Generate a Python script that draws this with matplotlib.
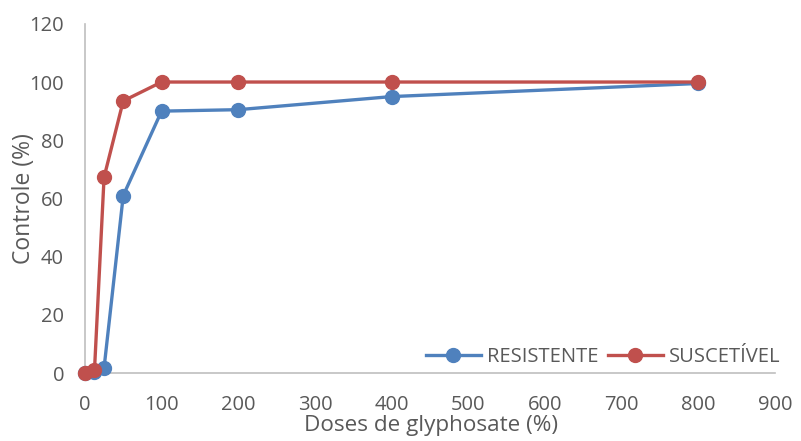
import matplotlib.pyplot as plt

plt.rcParams['font.family'] = ['Open Sans', 'DejaVu Sans']

doses = [0, 12.5, 25, 50, 100, 200, 400, 800]
resistente = [0, 0.3, 1.8, 61, 90, 90.5, 95, 99.5]
suscetivel = [0, 1, 67.3, 93.5, 100, 100, 100, 100]

x_ticks = list(range(0, 1000, 100))
y_ticks = list(range(0, 140, 20))

grey = '#595959'

fig = plt.figure(figsize=(8.01, 4.41), dpi=100)
ax = fig.add_axes([0.106, 0.154, 0.8615, 0.792])

ax.plot(doses, resistente, color='#4F81BD', lw=2.4, marker='o', ms=10,
        label='RESISTENTE', clip_on=False, zorder=3)
ax.plot(doses, suscetivel, color='#C0504D', lw=2.4, marker='o', ms=10,
        label='SUSCETÍVEL', clip_on=False, zorder=4)

ax.set_xlim(0, 900)
ax.set_ylim(0, 120)
ax.set_xticks(x_ticks)
ax.set_yticks(y_ticks)
ax.tick_params(length=0, labelsize=14.5, colors=grey)
ax.tick_params(axis='x', pad=16)
ax.tick_params(axis='y', pad=15)

for s in ['top', 'right']:
    ax.spines[s].set_visible(False)
for s in ['left', 'bottom']:
    ax.spines[s].set_color('#BFBFBF')
    ax.spines[s].set_linewidth(1.2)

ax.set_xlabel('Doses de glyphosate (%)', fontsize=16.2, color=grey)
ax.set_ylabel('Controle (%)', fontsize=16.5, color=grey)
ax.xaxis.set_label_coords(0.502, -0.12)
ax.yaxis.set_label_coords(-0.071, 0.5)

leg = ax.legend(loc='lower right', ncol=2, frameon=False, fontsize=14.5,
                handlelength=2.7, columnspacing=0.5, handletextpad=0.3,
                borderpad=0, bbox_to_anchor=(1.022, -0.012))
for t in leg.get_texts():
    t.set_color(grey)

fig.savefig('out.png', dpi=100)
